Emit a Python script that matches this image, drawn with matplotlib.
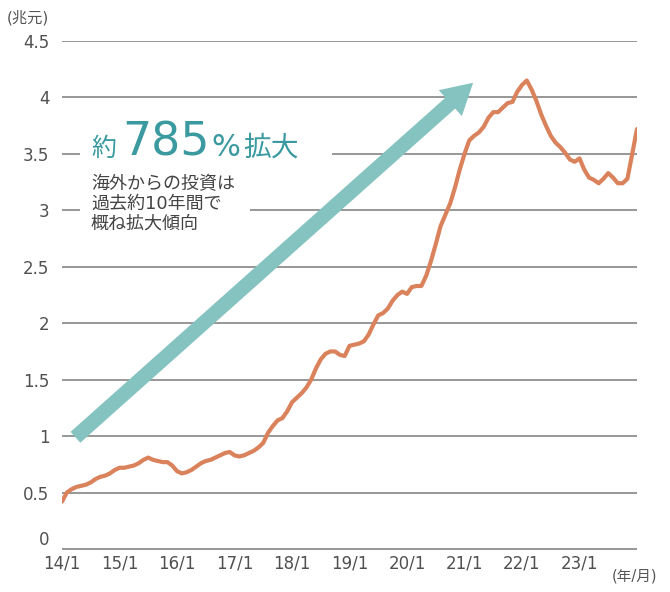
import numpy as np
import matplotlib
matplotlib.use("Agg")
import matplotlib.pyplot as plt
from matplotlib.patches import Rectangle, FancyArrowPatch

plt.rcParams['font.family'] = ['DejaVu Sans', 'Noto Sans CJK JP']

# monthly values, 2014/1 .. 2024/1 (trillion yuan)
values = [
    0.42, 0.50, 0.53, 0.55, 0.56, 0.57, 0.59, 0.62, 0.64, 0.65, 0.67, 0.70,
    0.72, 0.72, 0.73, 0.74, 0.76, 0.79, 0.81, 0.79, 0.78, 0.77, 0.77, 0.74,
    0.69, 0.67, 0.68, 0.70, 0.73, 0.76, 0.78, 0.79, 0.81, 0.83, 0.85, 0.86,
    0.83, 0.82, 0.83, 0.85, 0.87, 0.90, 0.94, 1.03, 1.09, 1.14, 1.16, 1.22,
    1.30, 1.34, 1.38, 1.43, 1.50, 1.60, 1.68, 1.73, 1.75, 1.75, 1.72, 1.71,
    1.80, 1.81, 1.82, 1.84, 1.90, 1.99, 2.07, 2.09, 2.13, 2.20, 2.25, 2.28,
    2.26, 2.32, 2.33, 2.33, 2.42, 2.55, 2.70, 2.86, 2.96, 3.06, 3.20, 3.36,
    3.50, 3.62, 3.66, 3.69, 3.74, 3.82, 3.87, 3.87, 3.91, 3.95, 3.96, 4.05,
    4.11, 4.15, 4.07, 3.97, 3.85, 3.75, 3.66, 3.60, 3.56, 3.51, 3.45, 3.43,
    3.46, 3.36, 3.29, 3.27, 3.24, 3.28, 3.33, 3.29, 3.24, 3.24, 3.28, 3.50,
    3.72,
]
months = np.arange(len(values))

xtick_labels = ['14/1', '15/1', '16/1', '17/1', '18/1', '19/1', '20/1', '21/1', '22/1', '23/1']
xtick_pos = [12 * i for i in range(len(xtick_labels))]
ytick_vals = [0, 0.5, 1, 1.5, 2, 2.5, 3, 3.5, 4, 4.5]
ytick_labels = ['0', '0.5', '1', '1.5', '2', '2.5', '3', '3.5', '4', '4.5']

W, H = 670, 592
def px(x, y):
    return x / W, 1 - y / H

fig = plt.figure(figsize=(6.7, 5.92), dpi=100)
# axes reach a few pixels below zero so the 0 grid line is drawn in full
ax = fig.add_axes([62 / W, 1 - 553 / H, (637 - 62) / W, (553 - 41) / H])

ax.plot(months, values, color='#d9825b', lw=3.0, solid_capstyle='round', zorder=3)

ax.set_xlim(0, 120)
ax.set_ylim(-0.035, 4.5)
ax.set_yticks(ytick_vals)
ax.set_yticklabels(ytick_labels)
ax.set_xticks(xtick_pos)
ax.set_xticklabels(xtick_labels)
ax.yaxis.grid(True, color='#7a7a7a', lw=1.1, zorder=0)
ax.set_axisbelow(True)
for s in ax.spines.values():
    s.set_visible(False)
ax.tick_params(axis='both', length=0, labelsize=12, labelcolor='#505050')
ax.tick_params(axis='y', pad=9)
ax.tick_params(axis='x', pad=1)
# the "0" sits on the line so it clears the year labels
ax.get_yticklabels()[0].set_verticalalignment('bottom')

# arrow
arr = FancyArrowPatch((2.8, 0.99), (85.8, 4.13),
                      arrowstyle='simple,head_length=2.2,head_width=2.5,tail_width=1.05',
                      mutation_scale=10, color='#85c3c0', lw=0, shrinkA=0, shrinkB=0, zorder=4)
ax.add_patch(arr)

# white boxes behind annotation
fig.patches.append(Rectangle(px(80, 166), 252 / W, 50 / H, transform=fig.transFigure,
                             facecolor='white', edgecolor='none', zorder=5))
fig.patches.append(Rectangle(px(80, 240), 170 / W, 75 / H, transform=fig.transFigure,
                             facecolor='white', edgecolor='none', zorder=5))

# headline pieces laid out one after another
teal = '#3a9aa0'
pieces = [('約', 18, 0), ('785', 33, 6), ('%', 22, 2), ('拡大', 20, 3)]
renderer = fig.canvas.get_renderer()
x = 91
for txt, size, gap in pieces:
    x += gap
    t = fig.text(*px(x, 156), txt, fontsize=size, color=teal, va='baseline', zorder=6)
    bb = t.get_window_extent(renderer)
    x += bb.width

fig.text(*px(91, 175), '海外からの投資は\n過去約10年間で\n概ね拡大傾向', fontsize=13,
         color='#444444', va='top', linespacing=1.12, zorder=6)

fig.text(*px(7, 18), '(兆元)', fontsize=11, color='#555555', va='center')
fig.text(*px(612, 576), '(年/月)', fontsize=10.5, color='#555555', va='center')

fig.savefig('out.png', dpi=100)
